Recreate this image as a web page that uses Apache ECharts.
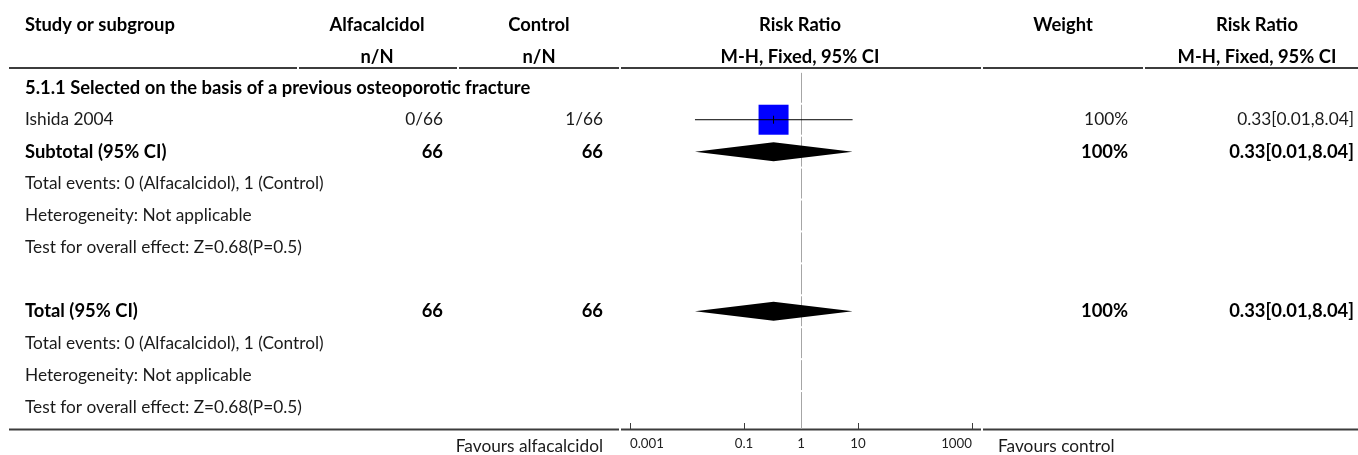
<!DOCTYPE html>
<html><head><meta charset="utf-8">
<script src="https://cdn.jsdelivr.net/npm/echarts@6/dist/echarts.min.js"></script>
<style>html,body{margin:0;padding:0;background:#fff}#c{width:1358px;height:455px}</style>
</head><body><div id="c"></div>
<script>
// ---------- data ----------
const headerTop = ['Study or subgroup', 'Alfacalcidol', 'Control', 'Risk Ratio', 'Weight', 'Risk Ratio'];
const headerSub = ['', 'n/N', 'n/N', 'M-H, Fixed, 95% CI', '', 'M-H, Fixed, 95% CI'];
const rowLabels = [
  '5.1.1 Selected on the basis of a previous osteoporotic fracture',
  'Ishida 2004',
  'Subtotal (95% CI)',
  'Total events: 0 (Alfacalcidol), 1 (Control)',
  'Heterogeneity: Not applicable',
  'Test for overall effect: Z=0.68(P=0.5)',
  '',
  'Total (95% CI)',
  'Total events: 0 (Alfacalcidol), 1 (Control)',
  'Heterogeneity: Not applicable',
  'Test for overall effect: Z=0.68(P=0.5)'
];
const rowBold = [true, false, true, false, false, false, false, true, false, false, false];
const alfacalcidolN = ['', '0/66', '66', '', '', '', '', '66', '', '', ''];
const controlN = ['', '1/66', '66', '', '', '', '', '66', '', '', ''];
const weightText = ['', '100%', '100%', '', '', '', '', '100%', '', '', ''];
const ciText = ['', '0.33[0.01,8.04]', '0.33[0.01,8.04]', '', '', '', '', '0.33[0.01,8.04]', '', '', ''];
const studyRow = [1];
const studyRR = [0.33];
const studyLow = [0.0138];
const studyHigh = [8.04];
const studyWeight = [100];
const pooledRow = [2, 7];
const pooledRR = [0.33, 0.33];
const pooledLow = [0.0138, 0.0138];
const pooledHigh = [8.04, 8.04];
const axisTicks = [0.001, 0.1, 1, 10, 1000];
const favoursLeft = 'Favours alfacalcidol';
const favoursRight = 'Favours control';

// ---------- layout / style ----------
const FAM = 'Lato';
const cv = document.createElement('canvas').getContext('2d');
function fit(text, weight, target) {
  cv.font = weight + ' 100px ' + FAM;
  return 100 * target / cv.measureText(text).width;
}
const SR = fit('Test for overall effect: Z=0.68(P=0.5)', 'normal', 277);
const SB = fit('Study or subgroup', 'bold', 150);
const ST = fit('0.001', 'normal', 34);
const fontR = 'normal ' + SR.toFixed(2) + 'px ' + FAM;
const fontB = 'bold ' + SB.toFixed(2) + 'px ' + FAM;
const headX = [[25, 'left'], [377, 'center'], [539, 'center'], [800, 'center'], [1063, 'center'], [1257, 'center']];
const valX = { alf: 443, ctrl: 603, w: 1128, ci: 1354 };
const TEXT_R = '#1a1a1a', TEXT_B = '#000';

const chart = echarts.init(document.getElementById('c'), null, { renderer: 'canvas' });

function renderHeader(params, api) {
  const r = api.value(1);
  const y = api.coord([1, r])[1] + 1;
  const arr = r === -2 ? headerTop : headerSub;
  const children = [];
  arr.forEach((t, k) => {
    if (!t) return;
    children.push({ type: 'text', silent: true, style: { text: t, x: headX[k][0], y: y, align: headX[k][1], verticalAlign: 'middle', font: fontB, fill: TEXT_B } });
  });
  return { type: 'group', children };
}

function renderRow(params, api) {
  const i = params.dataIndex;
  const y = api.coord([1, i])[1];
  const b = rowBold[i];
  const font = b ? fontB : fontR;
  const fill = b ? TEXT_B : TEXT_R;
  const children = [];
  const put = (t, x, align) => { if (t) children.push({ type: 'text', silent: true, style: { text: t, x, y, align, verticalAlign: 'middle', font, fill } }); };
  put(rowLabels[i], 25, 'left');
  put(alfacalcidolN[i], valX.alf, 'right');
  put(controlN[i], valX.ctrl, 'right');
  put(weightText[i], valX.w, 'right');
  put(ciText[i], valX.ci, 'right');
  return { type: 'group', children };
}

function renderNull(params, api) {
  const children = [];
  const top = 70, bottom = 429;
  for (let i = 0; i <= 10; i++) {
    const x = Math.round(api.coord([1, i])[0]) + 0.5;
    let y0 = api.coord([1, i - 0.5])[1] + 1;
    let y1 = i === 10 ? bottom : api.coord([1, i + 0.5])[1] - 1;
    y0 = Math.max(y0, top);
    children.push({ type: 'line', silent: true, shape: { x1: x, y1: y0, x2: x, y2: y1 }, style: { stroke: '#a6a6a6', lineWidth: 1 } });
  }
  return { type: 'group', children };
}

function renderStudy(params, api) {
  const row = api.value(1);
  const c = api.coord([api.value(0), row]);
  const l = api.coord([api.value(2), row]);
  const h = api.coord([api.value(3), row]);
  const s = 30 * Math.sqrt(api.value(4) / 100);
  return {
    type: 'group', children: [
      { type: 'rect', shape: { x: c[0] - s / 2, y: c[1] - s / 2, width: s, height: s }, style: { fill: '#0000ff' } },
      { type: 'line', shape: { x1: l[0], y1: c[1], x2: h[0], y2: c[1] }, style: { stroke: '#000', lineWidth: 1 } },
      { type: 'line', shape: { x1: c[0], y1: c[1] - 4, x2: c[0], y2: c[1] + 4 }, style: { stroke: '#000', lineWidth: 1 } }
    ]
  };
}

function renderDiamond(params, api) {
  const row = api.value(1);
  const c = api.coord([api.value(0), row]);
  const l = api.coord([api.value(2), row]);
  const h = api.coord([api.value(3), row]);
  const hh = 9.5;
  return { type: 'polygon', shape: { points: [[l[0], c[1]], [c[0], c[1] - hh], [h[0], c[1]], [c[0], c[1] + hh]] }, style: { fill: '#000' } };
}

function hline(y, segs) {
  return segs.map(s => ({ type: 'line', silent: true, shape: { x1: s[0], y1: y, x2: s[1], y2: y }, style: { stroke: '#3c3c3c', lineWidth: 2 } }));
}

const option = {
  animation: false,
  backgroundColor: '#fff',
  grid: { left: 630, width: 342, top: 8, height: 422 },
  xAxis: {
    type: 'log', logBase: 10, min: 0.001, max: 1000,
    axisLine: { show: false, onZero: false }, splitLine: { show: false },
    axisTick: { show: true, inside: true, length: 7, customValues: axisTicks, lineStyle: { color: '#3c3c3c', width: 1 } },
    axisLabel: {
      customValues: axisTicks, margin: 7, color: '#222', fontFamily: FAM, fontSize: ST,
      alignMinLabel: 'left', alignMaxLabel: 'right',
      formatter: v => String(+(+v).toPrecision(6))
    }
  },
  yAxis: { type: 'value', inverse: true, min: -2.5, max: 10.72, show: false },
  graphic: [
    ...hline(68, [[9, 297], [299, 457], [459, 619], [621, 981], [983, 1143], [1145, 1358]]),
    ...hline(429.5, [[9, 619], [621, 981], [983, 1358]]),
    { type: 'text', silent: true, style: { text: favoursLeft, x: 603, y: 446, align: 'right', verticalAlign: 'middle', font: fontR, fill: TEXT_R } },
    { type: 'text', silent: true, style: { text: favoursRight, x: 998, y: 446, align: 'left', verticalAlign: 'middle', font: fontR, fill: TEXT_R } }
  ],
  series: [
    { type: 'custom', name: 'null', clip: false, data: [[1, 0]], renderItem: renderNull, silent: true, z: 1 },
    { type: 'custom', name: 'header', clip: false, data: [[1, -2], [1, -1]], renderItem: renderHeader, silent: true },
    { type: 'custom', name: 'rows', clip: false, data: rowLabels.map((_, i) => [1, i]), renderItem: renderRow, silent: true },
    { type: 'custom', name: 'study', clip: false, z: 3, data: studyRow.map((r, k) => [studyRR[k], r, studyLow[k], studyHigh[k], studyWeight[k]]), renderItem: renderStudy, silent: true },
    { type: 'custom', name: 'pooled', clip: false, z: 3, data: pooledRow.map((r, k) => [pooledRR[k], r, pooledLow[k], pooledHigh[k]]), renderItem: renderDiamond, silent: true }
  ]
};
chart.setOption(option);
</script>
</body></html>
